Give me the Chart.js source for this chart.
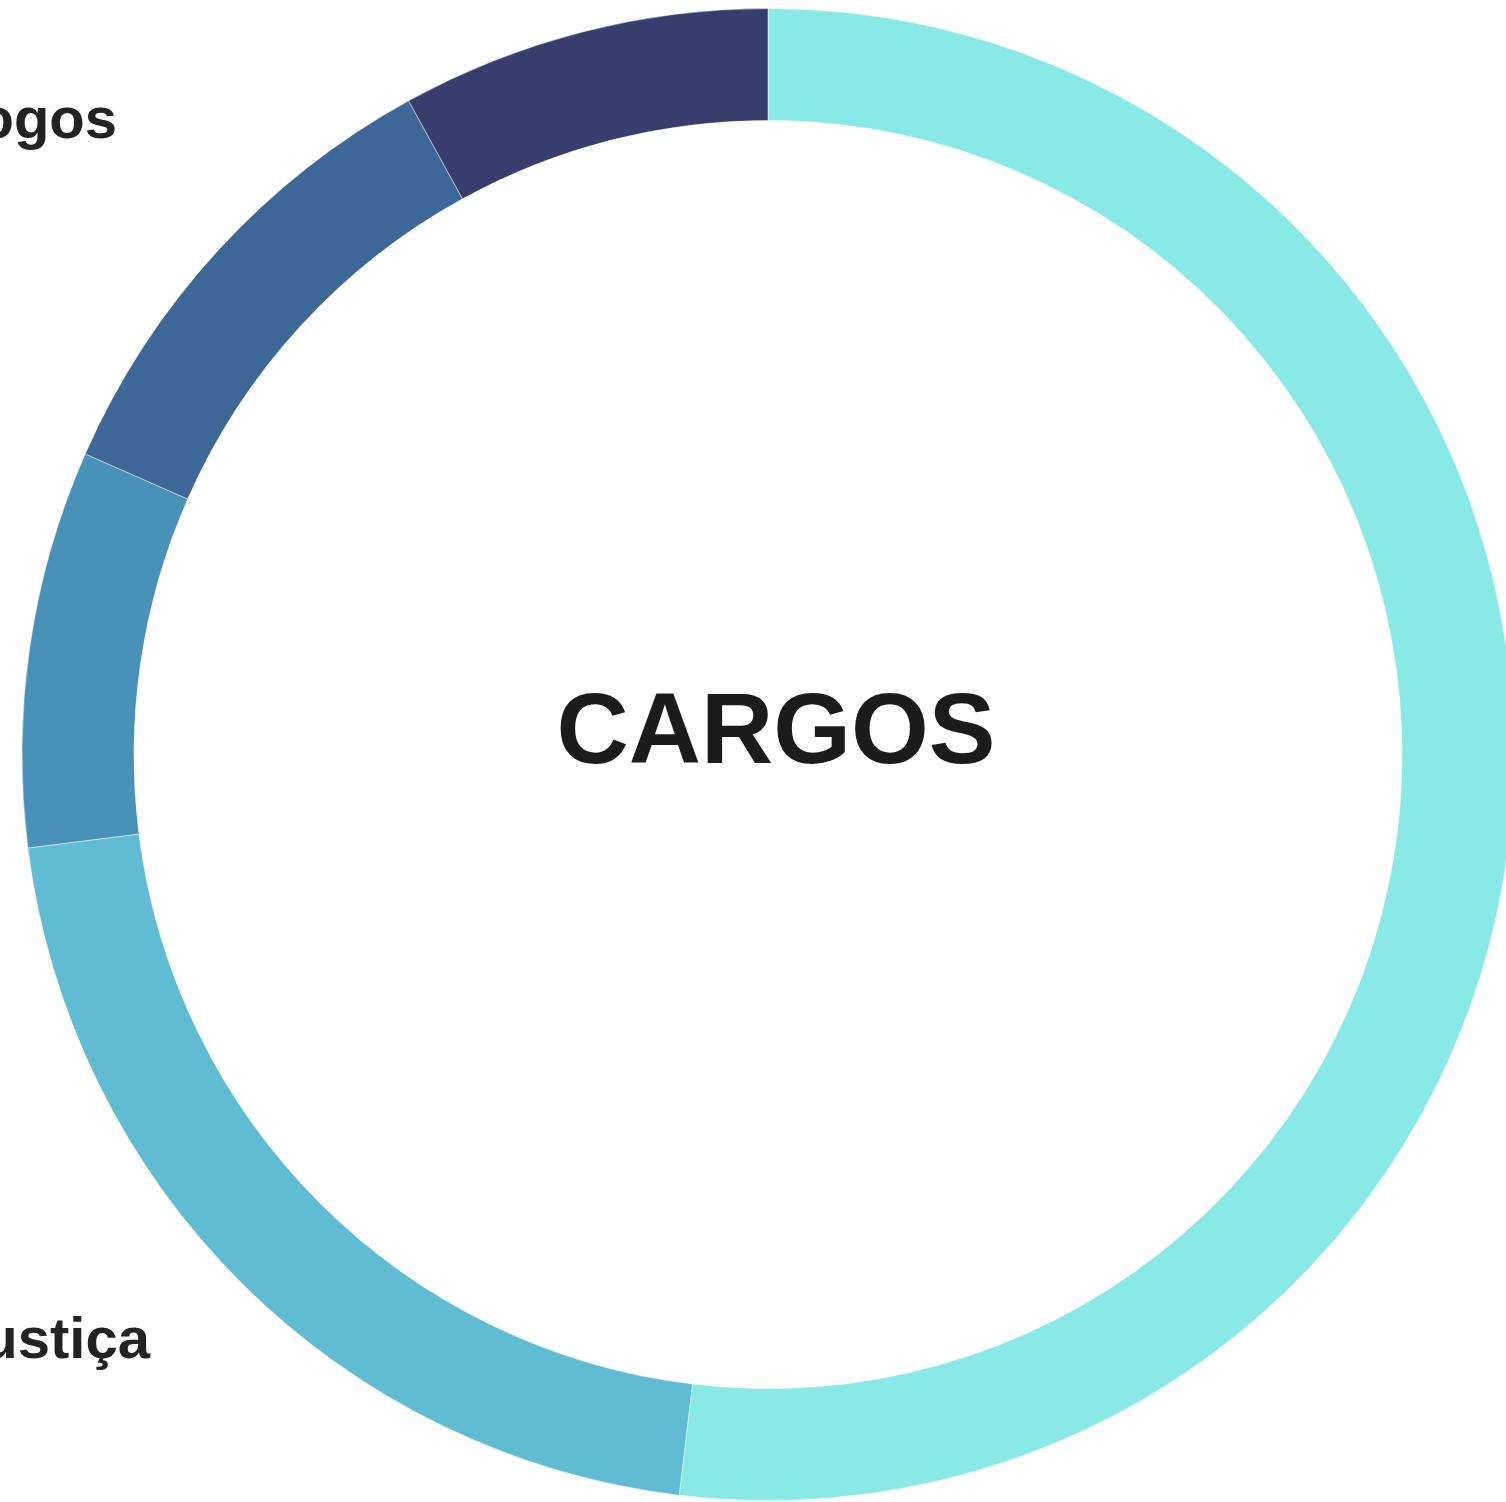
<!DOCTYPE html>
<html>
<head>
<meta charset="utf-8">
<script src="https://cdn.jsdelivr.net/npm/chart.js@4/dist/chart.umd.min.js"></script>
<style>
  html, body { margin: 0; padding: 0; overflow: hidden; background: #ffffff; width: 1506px; height: 1502px; }
  #wrap { position: absolute; left: 0; top: 0; width: 1536px; height: 1509px; }
</style>
</head>
<body>
<div id="wrap"><canvas id="c" width="1536" height="1509"></canvas></div>
<script>
// ---- data ----
const categories = ["Professores", "Oficiais de Justiça", "Técnicos", "Assistentes", "Psicólogos"];
const values = [51.9, 21.1, 8.6, 10.4, 8.0];
const colors = ["#88e9e6", "#5fbcd3", "#4891b8", "#3d6796", "#373d6d"];
const centerTitle = "CARGOS";
// labels shown outside the ring (only these reach the visible area)
const outsideLabels = [
  { index: 4, text: "Psicólogos", dx: -651, dy: -617 },
  { index: 1, text: "Oficiais de Justiça", dx: -618, dy: 603 }
];

const labelPlugin = {
  id: 'labelPlugin',
  afterDraw(chart) {
    const ctx = chart.ctx;
    const arc = chart.getDatasetMeta(0).data[0];
    const cx = arc.x, cy = arc.y;
    ctx.save();
    ctx.fillStyle = '#1b1b1b';
    ctx.font = 'bold 100px "Liberation Sans", Arial, sans-serif';
    ctx.textAlign = 'center';
    ctx.textBaseline = 'alphabetic';
    ctx.fillText(centerTitle, cx + 8, cy + 8);
    ctx.fillStyle = '#222222';
    ctx.font = 'bold 58px "Liberation Sans", Arial, sans-serif';
    ctx.textAlign = 'right';
    outsideLabels.forEach(l => {
      ctx.fillText(l.text, cx + l.dx, cy + l.dy);
    });
    ctx.restore();
  }
};

new Chart(document.getElementById('c'), {
  type: 'doughnut',
  data: {
    labels: categories,
    datasets: [{
      data: values,
      backgroundColor: colors,
      borderColor: 'rgba(255,255,255,0.45)',
      borderWidth: 1,
      hoverOffset: 0
    }]
  },
  options: {
    responsive: false,
    animation: false,
    devicePixelRatio: 1,
    cutout: '85%',
    rotation: 0,
    layout: { padding: { top: 8, bottom: 8, left: 0, right: 0 } },
    plugins: {
      legend: { display: false },
      tooltip: { enabled: false },
      title: { display: false }
    }
  },
  plugins: [labelPlugin]
});
</script>
</body>
</html>
